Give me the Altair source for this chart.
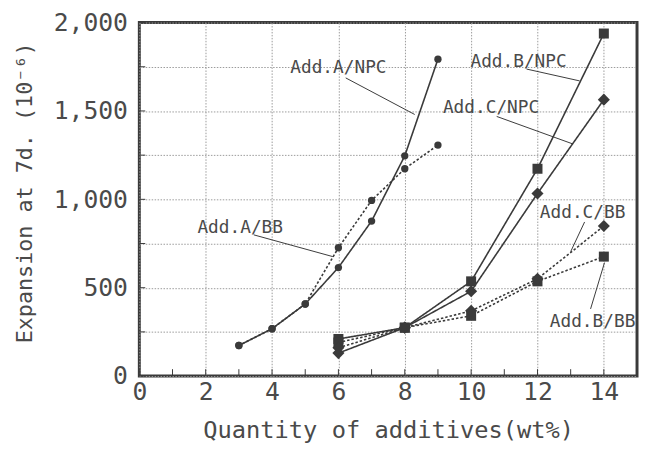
import altair as alt
import pandas as pd

# ---- data ----
x_A = [3, 4, 5, 6, 7, 8, 9]
A_NPC = [173, 268, 408, 614, 877, 1246, 1793]
A_BB = [173, 268, 408, 726, 994, 1173, 1307]

x_BC = [6, 8, 10, 12, 14]
B_NPC = [210, 274, 536, 1173, 1938]
C_NPC = [130, 274, 480, 1033, 1564]
B_BB = [190, 274, 341, 536, 676]
C_BB = [160, 274, 369, 550, 849]

x_ticks = list(range(0, 16))
y_ticks = [0, 250, 500, 750, 1000, 1250, 1500, 1750, 2000]

# annotations: label, text position, leader line start/end (data units)
ann_labels = ["Add.A/NPC", "Add.B/NPC", "Add.C/NPC", "Add.A/BB", "Add.C/BB", "Add.B/BB"]
ann_tx = [6.0, 11.43, 10.6, 3.04, 13.36, 13.66]
ann_ty = [1740, 1776, 1514, 838, 922, 307]
ann_x1 = [6.22, 11.67, 10.77, 3.45, 13.42, 13.6]
ann_y1 = [1687, 1737, 1469, 799, 872, 380]
ann_x2 = [8.3, 13.27, 13.07, 5.83, 13.0, 14.02]
ann_y2 = [1480, 1670, 1313, 676, 704, 642]

rows = []
for name, add, cem, xs, ys in [
    ("A/NPC", "A", "NPC", x_A, A_NPC),
    ("A/BB", "A", "BB", x_A, A_BB),
    ("B/NPC", "B", "NPC", x_BC, B_NPC),
    ("C/NPC", "C", "NPC", x_BC, C_NPC),
    ("B/BB", "B", "BB", x_BC, B_BB),
    ("C/BB", "C", "BB", x_BC, C_BB),
]:
    for xv, yv in zip(xs, ys):
        rows.append({"x": xv, "y": yv, "series": name, "add": add, "cem": cem})
df = pd.DataFrame(rows)

ann = pd.DataFrame({"label": ann_labels, "tx": ann_tx, "ty": ann_ty,
                    "x1": ann_x1, "y1": ann_y1, "x2": ann_x2, "y2": ann_y2})

INK = "#3a3a3a"
TXT = "#4a4a4a"
GRID = "#9a9a9a"
FONT = "DejaVu Sans Mono"

xscale = alt.Scale(domain=[0, 15], nice=False, zero=False)
yscale = alt.Scale(domain=[0, 2000], nice=False)

xaxis = alt.Axis(values=x_ticks, grid=True, gridDash=[1.5, 1.5], gridColor=GRID,
                 gridWidth=1, ticks=False, domain=False,
                 labelExpr="datum.value % 2 == 0 ? datum.label : ''",
                 labelFontSize=25, labelFont=FONT, labelColor=TXT, labelPadding=4,
                 labelFlush=False,
                 title="Quantity of additives(wt%)", titleFontSize=24, titleFont=FONT,
                 titleColor=TXT, titleFontWeight="normal",
                 titleX=252, titleY=55, titleBaseline="middle", titleAlign="center")
yaxis = alt.Axis(values=y_ticks, grid=True, gridDash=[1.5, 1.5], gridColor=GRID,
                 gridWidth=1, ticks=False, domain=False,
                 labelExpr="datum.value % 500 == 0 ? format(datum.value, ',') : ''",
                 labelFontSize=25, labelFont=FONT, labelColor=TXT, labelPadding=12,
                 labelFlush=False,
                 title="Expansion at 7d. (10⁻⁶)", titleFontSize=22, titleFont=FONT,
                 titleColor=TXT, titleFontWeight="normal", titleAngle=-90,
                 titleX=-116, titleY=172, titleBaseline="middle", titleAlign="center")

base = alt.Chart(df)

grid = alt.Chart(pd.DataFrame({"x": [0], "y": [0]})).mark_point(opacity=0).encode(
    x=alt.X("x:Q", scale=xscale, axis=xaxis),
    y=alt.Y("y:Q", scale=yscale, axis=yaxis),
)

lines = base.mark_line(color=INK, strokeWidth=1.6).encode(
    x=alt.X("x:Q", scale=xscale),
    y=alt.Y("y:Q", scale=yscale),
    detail="series:N",
    strokeDash=alt.StrokeDash("cem:N", scale=alt.Scale(domain=["NPC", "BB"],
                                                        range=[[1, 0], [2.5, 2]]), legend=None),
)

points = base.mark_point(filled=True, color=INK, opacity=1).encode(
    x=alt.X("x:Q", scale=xscale),
    y=alt.Y("y:Q", scale=yscale),
    shape=alt.Shape("add:N", scale=alt.Scale(domain=["A", "B", "C"],
                                             range=["circle", "square", "diamond"]), legend=None),
    size=alt.Size("add:N", scale=alt.Scale(domain=["A", "B", "C"], range=[55, 150, 75]), legend=None),
)

tick_x = alt.Chart(pd.DataFrame({"x": x_ticks})).mark_rule(color=INK, strokeWidth=1).encode(
    x=alt.X("x:Q", scale=xscale), y=alt.value(358), y2=alt.value(351))
tick_y = alt.Chart(pd.DataFrame({"y": y_ticks})).mark_rule(color=INK, strokeWidth=1).encode(
    y=alt.Y("y:Q", scale=yscale), x=alt.value(0), x2=alt.value(6))

leaders = alt.Chart(ann).mark_rule(color=INK, strokeWidth=1).encode(
    x=alt.X("x1:Q", scale=xscale), y=alt.Y("y1:Q", scale=yscale),
    x2="x2:Q", y2="y2:Q")

labels = alt.Chart(ann).mark_text(font=FONT, fontSize=18, color=TXT, align="center",
                                  baseline="middle").encode(
    x=alt.X("tx:Q", scale=xscale), y=alt.Y("ty:Q", scale=yscale), text="label:N")

chart = alt.layer(grid, tick_x, tick_y, lines, points, leaders, labels).properties(
    width=504, height=358,
    autosize=alt.AutoSizeParams(type="none"),
    padding={"left": 133, "top": 12, "right": 2, "bottom": 65},
    background="white",
).configure_view(stroke=INK, strokeWidth=3)

chart.save("out.html", embed_options={"renderer": "svg", "actions": False})
